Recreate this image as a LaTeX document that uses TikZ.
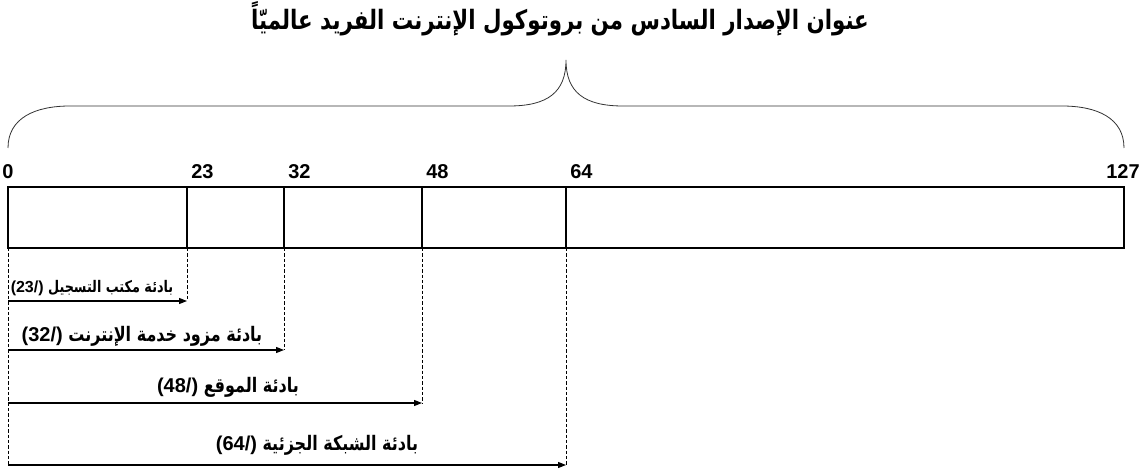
\documentclass[tikz,border=0pt]{standalone}
\usepackage{fontspec}
\setmainfont{Liberation Sans}
\newfontfamily\arabicfont[Script=Arabic, FakeStretch=0.8]{DejaVu Sans}
\TeXXeTstate=1
\usetikzlibrary{arrows.meta, positioning}
\newcommand{\prefixlen}[1]{\beginL{\normalfont\bfseries(#1/)}\endL}
\tikzset{
  % Box styles
  fieldbox/.style={draw=black, line width=2pt},
  % Text styles
  bitlabel/.style={font=\bfseries\fontsize{15}{17}\selectfont, inner sep=0pt},
  titlelabel/.style={font=\arabicfont\bfseries\fontsize{20}{24}\selectfont, inner sep=0pt},
  prefixlabel/.style={font=\arabicfont\bfseries\fontsize{15}{17}\selectfont, inner sep=0pt},
  smallprefix/.style={prefixlabel, font=\arabicfont\bfseries\fontsize{12}{14}\selectfont},
  % Line styles
  arrow/.style={-{Triangle[length=6pt,width=4.5pt]}, line width=0.8pt},
  guideline/.style={dash pattern=on 2.5pt off 1.5pt, line width=0.6pt},
  bracketline/.style={line width=0.6pt, black!80}
}
\begin{document}
\begin{tikzpicture}[x=0.75pt, y=-0.75pt]
  \useasboundingbox (0,0) rectangle (1140,470);

  % Title
  \node[titlelabel] (title) at (560,19) {\beginR عنوان الإصدار السادس من بروتوكول الإنترنت الفريد عالميّاً\endR};

  % Brace
  \draw[bracketline] (8,148) .. controls (8,118) and (35,106) .. (70,106) -- (509,106)
    .. controls (548,106) and (566,92) .. (566,60)
    .. controls (566,92) and (584,106) .. (623,106) -- (1062,106)
    .. controls (1097,106) and (1124,118) .. (1124,148);

  % Address field
  \draw[fieldbox] (8,187) rectangle (1124,248);
  \coordinate (b0) at (8,248);
  \node[bitlabel, anchor=base west] (n0) at (2,179) {0};
  \node[bitlabel, anchor=base east] (n127) at (1140,179) {127};
  \foreach \x/\n in {187/23, 284/32, 422/48, 566/64} {
    \draw[fieldbox] (\x,187) -- (\x,248);
    \coordinate (b\n) at (\x,248);
    \node[bitlabel, anchor=base west] (n\n) at (\x+4,179) {\n};
  }

  % Prefix arrows
  \foreach \n/\y in {23/301, 32/350, 48/403, 64/465} {
    \coordinate (s\n) at (8,\y);
    \coordinate (e\n) at (b\n |- s\n);
    \draw[guideline] (b\n) -- (e\n);
    \draw[arrow] (s\n) -- (e\n);
  }
  \draw[guideline] (b0) -- (s64);

  % Prefix labels
  \node[smallprefix] (p23) at (92,288) {\beginR بادئة مكتب التسجيل \prefixlen{23}\endR};
  \node[prefixlabel] (p32) at (142,336) {\beginR بادئة مزود خدمة الإنترنت \prefixlen{32}\endR};
  \node[prefixlabel] (p48) at (228,387) {\beginR بادئة الموقع \prefixlen{48}\endR};
  \node[prefixlabel] (p64) at (317,445) {\beginR بادئة الشبكة الجزئية \prefixlen{64}\endR};
\end{tikzpicture}
\end{document}
